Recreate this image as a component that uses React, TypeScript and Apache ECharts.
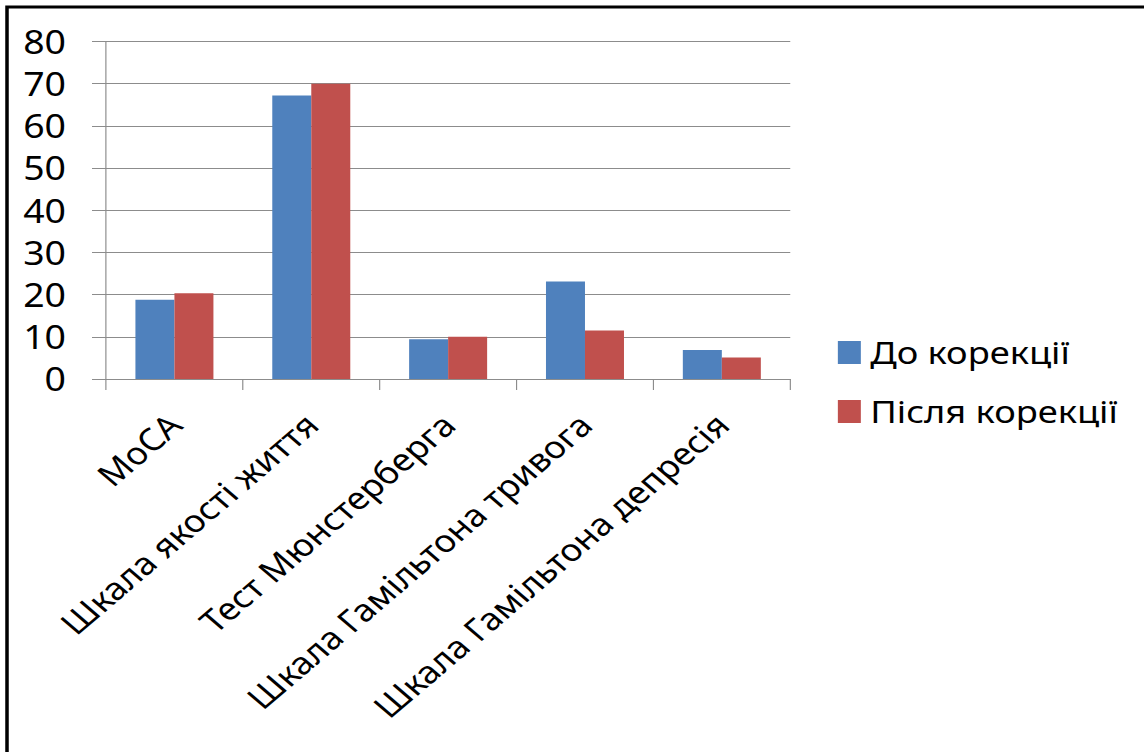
import React, { useEffect, useRef } from "react";
import * as echarts from "echarts";

// Scales used in the assessment
const categories = [
  "MoCA",
  "Шкала якості життя",
  "Тест Мюнстерберга",
  "Шкала Гамільтона тривога",
  "Шкала Гамільтона депресія",
];

// Mean scores before and after correction
const beforeValues = [18.8, 67.2, 9.4, 23.1, 6.9];
const afterValues = [20.3, 70.0, 10.0, 11.5, 5.1];

const seriesNames = ["До корекції", "Після корекції"];
const seriesColors = ["#4F81BD", "#C0504D"];

const FONT = "'Noto Sans', 'Open Sans', sans-serif";

// The chart is laid out on a narrower canvas and widened horizontally,
// giving the broad, stretched lettering of the slide.
const STRETCH = 1.17;
const PAGE_W = 1144;
const PAGE_H = 752;
const W = PAGE_W / STRETCH;
const px = (x: number) => x / STRETCH;

export default function App() {
  const ref = useRef<HTMLDivElement>(null);

  useEffect(() => {
    document.body.style.margin = "0";
    document.body.style.overflow = "hidden";
    if (!ref.current) return;
    const chart = echarts.init(ref.current, null, { renderer: "svg" });
    chart.setOption({
      animation: false,
      backgroundColor: "#ffffff",
      textStyle: { fontFamily: FONT, color: "#000" },
      graphic: [
        {
          type: "rect",
          shape: { x: px(7), y: 7, width: W + 40, height: PAGE_H + 40 },
          style: { fill: "none", stroke: "#000", lineWidth: 3 },
          silent: true,
        },
      ],
      legend: {
        orient: "vertical",
        left: px(832),
        top: 332,
        itemWidth: px(23),
        itemHeight: 23,
        itemGap: 28,
        icon: "rect",
        textStyle: { fontFamily: FONT, fontSize: 31, color: "#000", padding: [0, 0, 0, 3] },
        data: seriesNames,
      },
      grid: {
        left: px(106),
        right: W - px(790),
        top: 41.5,
        bottom: PAGE_H - 379,
        containLabel: false,
      },
      xAxis: {
        type: "category",
        data: categories,
        boundaryGap: true,
        axisLine: { show: true, lineStyle: { color: "#8c8c8c", width: 1 } },
        axisTick: { show: true, length: 11, lineStyle: { color: "#8c8c8c" } },
        axisLabel: {
          rotate: 45,
          interval: 0,
          margin: 40,
          fontFamily: FONT,
          fontSize: 31,
          color: "#000",
        },
      },
      yAxis: {
        type: "value",
        min: 0,
        max: 80,
        interval: 10,
        axisLine: { show: true, lineStyle: { color: "#8c8c8c", width: 1 } },
        axisTick: { show: true, length: px(14), lineStyle: { color: "#8c8c8c" } },
        splitLine: { show: true, lineStyle: { color: "#8c8c8c", width: 1 } },
        axisLabel: {
          margin: px(40),
          fontFamily: FONT,
          fontSize: 32,
          color: "#000",
        },
      },
      series: [
        {
          name: seriesNames[0],
          type: "bar",
          data: beforeValues,
          barGap: "0%",
          barCategoryGap: "43%",
          itemStyle: { color: seriesColors[0] },
        },
        {
          name: seriesNames[1],
          type: "bar",
          data: afterValues,
          barGap: "0%",
          barCategoryGap: "43%",
          itemStyle: { color: seriesColors[1] },
        },
      ],
    });
    return () => chart.dispose();
  }, []);

  return (
    <div
      style={{
        position: "fixed",
        left: 0,
        top: 0,
        width: PAGE_W,
        height: PAGE_H,
        overflow: "hidden",
        background: "#fff",
      }}
    >
      <div
        ref={ref}
        style={{
          width: W,
          height: PAGE_H,
          transform: `scaleX(${STRETCH})`,
          transformOrigin: "0 0",
        }}
      />
    </div>
  );
}
